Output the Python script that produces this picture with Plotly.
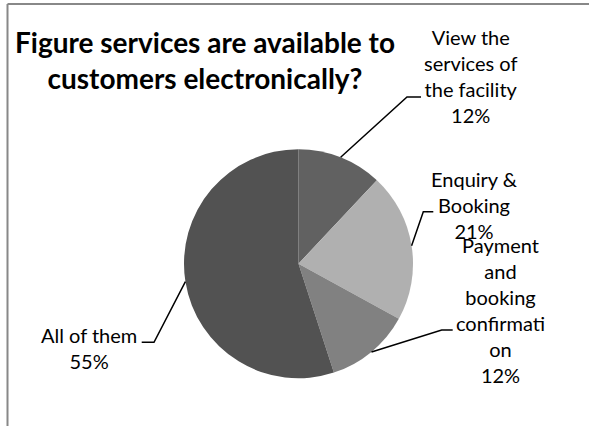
import math
import plotly.graph_objects as go

# Survey data
labels = ["View the services of the facility", "Enquiry & Booking",
          "Payment and booking confirmation", "All of them"]
values = [12, 21, 12, 55]
label_text = ["View the<br>services of<br>the facility<br>12%",
              "Enquiry &<br>Booking<br>21%",
              "Payment<br>and<br>booking<br>confirmati<br>on<br>12%",
              "All of them<br>55%"]
colors = ["#616161", "#b0b0b0", "#818181", "#525252"]

W, H = 589, 426
FONT = "Lato, Carlito, Calibri, sans-serif"

# pie placement in pixels
cx, cy, r = 298.5, 263.7, 114.5


def px(x):
    return x / W


def py(y):
    return 1 - y / H


fig = go.Figure(go.Pie(
    labels=labels, values=values, sort=False, direction="clockwise",
    rotation=0, textinfo="none", hoverinfo="label+percent",
    marker=dict(colors=colors, line=dict(width=0)),
    domain=dict(x=[px(cx - r), px(cx + r)], y=[py(cy + r), py(cy - r)]),
    showlegend=False,
))

# label blocks (center in pixels) and leader-line elbows
label_pos = [(471, 76), (474, 205), (500, 310), (89, 348)]
elbows = [((407, 97), (421, 97)),
          ((423.3, 211.7), (433.3, 211.7)),
          ((441.7, 330), (452.7, 330)),
          ((154, 342.3), (141.7, 342.3))]

total = sum(values)
cum = 0
shapes = []
annotations = []
for i, v in enumerate(values):
    mid = (cum + v / 2) / total * 2 * math.pi
    cum += v
    ex = cx + r * math.sin(mid)
    ey = cy - r * math.cos(mid)
    (bx, by), (tx, ty) = elbows[i]
    path = f"M {px(ex)} {py(ey)} L {px(bx)} {py(by)} L {px(tx)} {py(ty)}"
    shapes.append(dict(type="path", xref="paper", yref="paper", path=path,
                       line=dict(color="black", width=1.5)))
    lx, ly = label_pos[i]
    annotations.append(dict(x=px(lx), y=py(ly), xref="paper", yref="paper",
                            text=label_text[i], showarrow=False,
                            xanchor="center", yanchor="middle", align="center",
                            font=dict(family=FONT, size=20, color="black")))

# title
annotations.append(dict(x=px(204.5), y=py(60), xref="paper", yref="paper",
                        text="<b>Figure services are available to<br>customers electronically?</b>",
                        showarrow=False, xanchor="center", yanchor="middle",
                        align="center",
                        font=dict(family=FONT, size=28, color="black")))

# chart frame (top and left edges)
shapes.append(dict(type="line", xref="paper", yref="paper",
                   x0=px(7.5), y0=py(4), x1=1.0, y1=py(4),
                   line=dict(color="#888888", width=2)))
shapes.append(dict(type="line", xref="paper", yref="paper",
                   x0=px(7.5), y0=py(4), x1=px(7.5), y1=0,
                   line=dict(color="#888888", width=2)))

fig.update_layout(
    width=W, height=H, margin=dict(l=0, r=0, t=0, b=0),
    paper_bgcolor="white", plot_bgcolor="white",
    shapes=shapes, annotations=annotations,
)

fig.write_html("out.html")
